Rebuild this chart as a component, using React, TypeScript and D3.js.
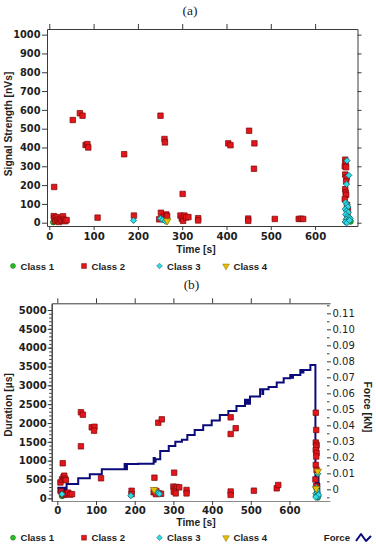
import { useEffect, useRef } from "react"
import * as d3 from "d3"

type Pt = [number, number]

// ---- panel (a): time [s] vs signal strength [nVs]
const aClass1: Pt[] = [[9, 3], [263, 20], [680, 6]]
const aClass2: Pt[] = [
    [10, 35], [12, 22], [14, 8], [17, 30], [19, 14], [22, 4], [25, 20], [28, 10], [31, 34], [33, 16], [36, 8], [39, 14],
    [11, 190],
    [53, 546], [69, 582], [75, 569], [82, 413], [86, 418], [88, 400],
    [109, 27], [169, 364], [191, 38],
    [248, 18], [252, 53], [258, 32], [264, 44], [266, 36],
    [251, 569], [260, 445], [261, 427],
    [301, 153],
    [296, 38], [299, 22], [302, 10], [305, 38], [309, 28], [314, 30],
    [336, 24], [336, 12],
    [404, 422], [409, 412],
    [451, 489], [463, 422], [462, 287],
    [449, 22], [449, 10],
    [509, 20],
    [563, 20], [568, 21], [573, 20],
    [668, 335], [669, 318], [667, 300], [670, 295], [668, 256], [671, 240], [670, 220], [668, 178], [669, 160],
    [670, 148], [667, 125], [672, 95], [674, 70], [673, 38], [676, 18],
]
const aClass3: Pt[] = [
    [190, 12], [251, 22], [256, 15], [262, 8],
    [672, 330], [676, 252], [671, 205], [669, 108], [672, 96], [674, 84], [668, 72], [671, 62], [675, 55],
    [669, 44], [673, 34], [677, 28], [670, 18], [674, 10], [679, 22], [668, 4], [672, 0], [678, 12],
]
const aClass4: Pt[] = [[266, 10]]

// ---- panel (b): time [s] vs duration [µs], plus force [kN]
const bClass1: Pt[] = [[12, 60], [673, 20]]
const bClass2: Pt[] = [
    [8, 420], [12, 500], [14, 930], [16, 560], [18, 600], [20, 520], [22, 480],
    [10, 180], [14, 120], [18, 90], [24, 110], [28, 150], [33, 100], [38, 110],
    [61, 2284], [66, 2220], [61, 1380], [89, 1885], [96, 1900], [95, 1795],
    [113, 531],
    [192, 200], [192, 110],
    [251, 547], [261, 2007], [270, 2097],
    [249, 160], [256, 190], [262, 130], [268, 120], [255, 110],
    [302, 680], [300, 310], [304, 240], [309, 300], [315, 290], [301, 175], [306, 130],
    [334, 220], [334, 130],
    [448, 2150], [461, 1860], [448, 1707], [448, 180], [448, 90],
    [508, 202], [567, 265], [571, 353],
    [668, 2273], [669, 1814], [668, 1480], [670, 1420], [669, 1370], [668, 1280], [670, 1200], [669, 1110],
    [668, 887], [670, 752], [667, 500], [669, 320],
]
const bClass3: Pt[] = [
    [12, 110], [190, 70], [252, 210], [255, 180], [258, 160], [261, 140], [264, 115],
    [668, 120], [670, 70], [672, 160], [674, 40], [671, 220], [669, 280], [675, 90], [673, 650], [668, 30],
]
const bClass4: Pt[] = [[250, 230], [673, 720], [669, 260]]

const forceLine: Pt[] = [
    [0, 0.001], [3, -0.002], [6, 0.001], [9, -0.002], [12, 0.001], [15, -0.002], [18, 0.001], [21, -0.0015],
    [24, 0.0033], [54, 0.0069], [84, 0.0094], [115, 0.0125], [174, 0.0158], [176, 0.0125], [180, 0.0158],
    [209, 0.016], [249, 0.0195], [252, 0.0172], [254, 0.0188], [266, 0.024], [288, 0.027], [305, 0.0298],
    [322, 0.031], [336, 0.034], [355, 0.037], [377, 0.04], [399, 0.043], [420, 0.0465], [442, 0.049],
    [463, 0.052], [485, 0.056], [488, 0.0535], [491, 0.056], [494, 0.0535], [498, 0.058], [524, 0.0625],
    [530, 0.0595], [532, 0.0625], [546, 0.064], [567, 0.0667], [585, 0.0694], [602, 0.0714], [606, 0.0698],
    [609, 0.0714], [628, 0.0746], [632, 0.073], [636, 0.0746], [654, 0.0777], [667, -0.004], [669, 0.012],
    [671, -0.002], [673, 0.01], [675, -0.004], [677, 0.004], [678, 0.004],
]

const timeTicks = [0, 100, 200, 300, 400, 500, 600]
const strengthTicks = [0, 100, 200, 300, 400, 500, 600, 700, 800, 900, 1000]
const durationTicks = [0, 500, 1000, 1500, 2000, 2500, 3000, 3500, 4000, 4500, 5000]
const forceTicks = [0, 0.01, 0.02, 0.03, 0.04, 0.05, 0.06, 0.07, 0.08, 0.09, 0.1, 0.11]
const classNames = ["Class 1", "Class 2", "Class 3", "Class 4"]
const forceIcon: Pt[] = [[0, 3], [5, -4], [10, 3], [15, -2]]

const AXIS = "#3a3a3a"
const NUM_FONT = "DejaVu Sans, sans-serif"
const TXT_FONT = "Liberation Sans, Arial, sans-serif"
const FORCE = "#0b0b7a"

const markers = [
    { type: d3.symbolCircle, size: 24, fill: "#22c322", stroke: "#0c520c", rot: 0 },
    { type: d3.symbolSquare, size: 30, fill: "#e2161b", stroke: "#7a0909", rot: 0 },
    { type: d3.symbolSquare, size: 20, fill: "#2fdbe4", stroke: "#0e5f69", rot: 45 },
    { type: d3.symbolTriangle, size: 24, fill: "#e6c000", stroke: "#876a00", rot: 180 },
]

export default function App() {
    const ref = useRef<SVGSVGElement | null>(null)

    useEffect(() => {
        const svg = d3.select(ref.current)
        svg.selectAll("*").remove()

        const styleAxis = (g: any, font: string, size: number, weight: string | number) => {
            g.attr("font-family", font).attr("font-size", size).attr("font-weight", weight)
            g.select(".domain").attr("stroke", AXIS)
            g.selectAll(".tick line").attr("stroke", AXIS)
            g.selectAll(".tick text").attr("fill", "#1e1e1e")
        }

        const drawPoints = (g: any, data: Pt[], x: any, y: any, k: number) => {
            const m = markers[k]
            g.append("g")
                .selectAll("path")
                .data(data)
                .join("path")
                .attr("d", d3.symbol().type(m.type).size(m.size)())
                .attr("transform", (d: Pt) => `translate(${x(d[0])},${y(d[1])}) rotate(${m.rot})`)
                .attr("fill", m.fill)
                .attr("stroke", m.stroke)
                .attr("stroke-width", 0.7)
        }

        const drawLegend = (y: number) => {
            const xs = [13, 84, 159.5, 226]
            const g = svg.append("g")
            classNames.forEach((name, i) => {
                const m = markers[i]
                g.append("path")
                    .attr("d", d3.symbol().type(m.type).size(m.size * 0.8)())
                    .attr("transform", `translate(${xs[i]},${y}) rotate(${m.rot})`)
                    .attr("fill", m.fill)
                    .attr("stroke", m.stroke)
                    .attr("stroke-width", 0.5)
                g.append("text")
                    .attr("x", xs[i] + 7.5)
                    .attr("y", y + 3.5)
                    .attr("font-family", TXT_FONT)
                    .attr("font-weight", "bold")
                    .attr("font-size", 9.6)
                    .attr("fill", "#1e1e1e")
                    .text(name)
            })
            return g
        }

        const intFmt = d3.format("d")

        // ================= panel (a)
        svg.append("text")
            .attr("x", 190).attr("y", 15)
            .attr("text-anchor", "middle")
            .attr("font-family", "Liberation Serif, serif")
            .attr("font-size", 13.5)
            .attr("fill", "#222")
            .text("(a)")

        const xa = d3.scaleLinear().domain([-5.2, 695.7]).range([47, 357.5])
        const ya = d3.scaleLinear().domain([-17.5, 1030]).range([226, 29])

        const ga = svg.append("g")
        styleAxis(ga.append("g").attr("transform", "translate(0,29)")
            .call(d3.axisTop(xa).tickValues(timeTicks).tickSize(5).tickSizeOuter(0).tickFormat(() => "")), NUM_FONT, 10, "bold")
        styleAxis(ga.append("g").attr("transform", "translate(357.5,0)")
            .call(d3.axisRight(ya).tickValues(strengthTicks).tickSize(4).tickSizeOuter(0).tickFormat(() => "")), NUM_FONT, 10, "bold")
        styleAxis(ga.append("g").attr("transform", "translate(47,0)")
            .call(d3.axisLeft(ya).tickValues(strengthTicks).tickSize(5).tickSizeOuter(0).tickPadding(1.5).tickFormat(intFmt as any)), NUM_FONT, 9.8, "bold")
        styleAxis(ga.append("g").attr("transform", "translate(0,226)")
            .call(d3.axisBottom(xa).tickValues(timeTicks).tickSize(4).tickSizeOuter(0).tickPadding(3).tickFormat(intFmt as any)), NUM_FONT, 10.2, "bold")

        drawPoints(ga, aClass1, xa, ya, 0)
        drawPoints(ga, aClass2, xa, ya, 1)
        drawPoints(ga, aClass3, xa, ya, 2)
        drawPoints(ga, aClass4, xa, ya, 3)

        svg.append("text")
            .attr("transform", "translate(11.5,124) rotate(-90)")
            .attr("text-anchor", "middle")
            .attr("font-family", TXT_FONT).attr("font-weight", "bold").attr("font-size", 10.3)
            .attr("fill", "#1e1e1e")
            .text("Signal Strength [nVs]")
        svg.append("text")
            .attr("x", 196).attr("y", 252.8)
            .attr("text-anchor", "middle")
            .attr("font-family", TXT_FONT).attr("font-weight", "bold").attr("font-size", 10.3)
            .attr("fill", "#1e1e1e")
            .text("Time [s]")
        drawLegend(266)

        // ================= panel (b)
        svg.append("text")
            .attr("x", 191.5).attr("y", 288.5)
            .attr("text-anchor", "middle")
            .attr("font-family", "Liberation Serif, serif")
            .attr("font-size", 13.5)
            .attr("fill", "#222")
            .text("(b)")

        const xb = d3.scaleLinear().domain([-14.5, 704.7]).range([51.7, 330])
        const yb = d3.scaleLinear().domain([-72, 5178]).range([501, 303.3])
        const fy = d3.scaleLinear().domain([-0.0073, 0.11625]).range([501, 303.3])

        const gb = svg.append("g")
        styleAxis(gb.append("g").attr("transform", "translate(0,303.3)")
            .call(d3.axisTop(xb).tickValues(timeTicks).tickSize(5).tickSizeOuter(0).tickFormat(() => "")), NUM_FONT, 10, "bold")
        const bottomB = gb.append("g").attr("transform", "translate(0,501)")
            .call(d3.axisBottom(xb).tickValues(timeTicks).tickSize(4).tickSizeOuter(0).tickPadding(1.5).tickFormat(intFmt as any))
        styleAxis(bottomB, NUM_FONT, 10.2, "bold")
        bottomB.select(".domain").attr("stroke", "#8a8a8a")
        styleAxis(gb.append("g").attr("transform", "translate(51.7,0)")
            .call(d3.axisLeft(yb).tickValues(d3.range(0, 5001, 100)).tickSize(2.5).tickSizeOuter(0).tickFormat(() => "")), NUM_FONT, 10, "bold")
        styleAxis(gb.append("g").attr("transform", "translate(51.7,0)")
            .call(d3.axisLeft(yb).tickValues(durationTicks).tickSize(4).tickSizeOuter(0).tickPadding(1).tickFormat(intFmt as any)), NUM_FONT, 10, "bold")

        const rAxis = gb.append("g").attr("transform", "translate(327,0)")
        styleAxis(rAxis.append("g")
            .call(d3.axisRight(fy).tickValues(d3.range(-0.005, 0.116, 0.01)).tickSize(2.5).tickFormat(() => "")), NUM_FONT, 10, "normal")
        styleAxis(rAxis.append("g")
            .call(d3.axisRight(fy).tickValues(forceTicks).tickSize(4).tickPadding(1.5)
                .tickFormat((d: any) => (d === 0 ? "0" : d3.format(".2f")(d)))), NUM_FONT, 10, "normal")
        rAxis.selectAll(".domain").remove()

        const line = d3.line<Pt>()
            .x(d => xb(d[0]))
            .y(d => fy(d[1]))
            .curve(d3.curveStepAfter)
        gb.append("path")
            .datum(forceLine)
            .attr("d", line)
            .attr("fill", "none")
            .attr("stroke", FORCE)
            .attr("stroke-width", 2)

        drawPoints(gb, bClass1, xb, yb, 0)
        drawPoints(gb, bClass2, xb, yb, 1)
        drawPoints(gb, bClass3, xb, yb, 2)
        drawPoints(gb, bClass4, xb, yb, 3)

        svg.append("text")
            .attr("transform", "translate(11.5,405) rotate(-90)")
            .attr("text-anchor", "middle")
            .attr("font-family", TXT_FONT).attr("font-weight", "bold").attr("font-size", 10.3)
            .attr("fill", "#1e1e1e")
            .text("Duration [µs]")
        svg.append("text")
            .attr("transform", "translate(364,407) rotate(90)")
            .attr("text-anchor", "middle")
            .attr("font-family", TXT_FONT).attr("font-weight", "bold").attr("font-size", 10.3)
            .attr("fill", "#1e1e1e")
            .text("Force [kN]")
        svg.append("text")
            .attr("x", 196).attr("y", 526.3)
            .attr("text-anchor", "middle")
            .attr("font-family", TXT_FONT).attr("font-weight", "bold").attr("font-size", 10.3)
            .attr("fill", "#1e1e1e")
            .text("Time [s]")

        drawLegend(537.7)
        svg.append("text")
            .attr("x", 350).attr("y", 541.2)
            .attr("text-anchor", "end")
            .attr("font-family", TXT_FONT).attr("font-weight", "bold").attr("font-size", 9.6)
            .attr("fill", "#1e1e1e")
            .text("Force")
        svg.append("path")
            .datum(forceIcon)
            .attr("transform", "translate(356,538)")
            .attr("d", d3.line<Pt>().x(d => d[0]).y(d => d[1]))
            .attr("fill", "none")
            .attr("stroke", FORCE)
            .attr("stroke-width", 2)
            .attr("stroke-linejoin", "round")
    }, [])

    return (
        <svg
            ref={ref}
            width={376}
            height={550}
            style={{ position: "absolute", left: 0, top: 0, background: "#fff" }}
        />
    )
}
